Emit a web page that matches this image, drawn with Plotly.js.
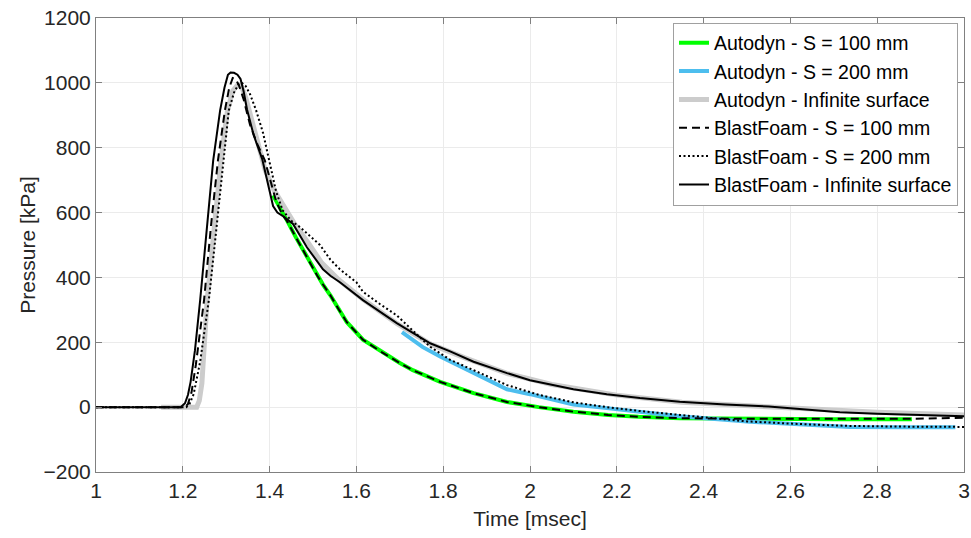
<!DOCTYPE html>
<html>
<head>
<meta charset="utf-8">
<script src="https://cdn.plot.ly/plotly-3.0.1.min.js"></script>
<style>
html,body{margin:0;padding:0;background:#fff;}
#chart{width:971px;height:538px;}
</style>
</head>
<body>
<div id="chart"></div>
<script>
// Autodyn - S = 100 mm
var autoS100_t = [1.408,1.425,1.44,1.46,1.486,1.51,1.523,1.54,1.56,1.578,1.615,1.66,1.70,1.73,1.793,1.87,1.947,2.02,2.1,2.18,2.25,2.345,2.5,2.7,2.88];
var autoS100_p = [653,615,576,525,462,405,378,345,300,262,208,168,136,114,78,43,16,0,-14,-24,-30,-34,-36,-37,-37];

// Autodyn - S = 200 mm
var autoS200_t = [1.705,1.753,1.793,1.81,1.87,1.947,2.0,2.023,2.1,2.177,2.253,2.345,2.507,2.62,2.737,2.86,2.98];
var autoS200_p = [231,185,156,145,105,55,40,33,8,-3,-15,-28,-45,-54,-61,-62,-62];

// Autodyn - Infinite surface
var autoInf_t = [1.15,1.232,1.238,1.244,1.256,1.272,1.288,1.303,1.315,1.327,1.335,1.345,1.36,1.375,1.39,1.41,1.424,1.44,1.46,1.49,1.52,1.56,1.615,1.693,1.77,1.85,1.95,2.05,2.2,2.35,2.5,2.65,2.8,3.0];
var autoInf_p = [0,0,20,74,330,560,761,915,975,995,990,955,880,800,730,670,640,600,560,505,445,392,333,258,195,152,103,70,37,15,4,-8,-16,-24];

// BlastFoam - S = 100 mm
var bfS100_t = [1.0,1.1,1.205,1.212,1.22,1.23,1.249,1.265,1.281,1.297,1.307,1.315,1.322,1.33,1.34,1.355,1.372,1.389,1.40,1.415,1.43,1.44,1.46,1.486,1.51,1.523,1.54,1.56,1.578,1.615,1.66,1.70,1.73,1.793,1.87,1.947,2.02,2.1,2.18,2.25,2.345,2.5,2.7,2.88,3.0];
var bfS100_p = [0,0,0,10,45,130,330,560,761,915,985,1015,1012,990,950,870,810,761,705,635,592,574,525,462,405,378,345,300,262,208,168,136,114,78,43,16,0,-14,-24,-30,-34,-36,-37,-36,-33];

// BlastFoam - S = 200 mm
var bfS200_t = [1.0,1.1,1.208,1.215,1.225,1.24,1.26,1.277,1.293,1.306,1.318,1.328,1.336,1.345,1.355,1.369,1.385,1.40,1.415,1.43,1.45,1.47,1.49,1.516,1.54,1.562,1.60,1.615,1.654,1.693,1.73,1.77,1.793,1.816,1.87,1.947,2.023,2.1,2.177,2.253,2.345,2.5,2.62,2.737,2.86,3.0];
var bfS200_p = [0,0,0,8,40,140,330,545,761,915,970,995,1000,990,965,915,845,755,665,607,575,555,530,500,455,425,385,356,318,283,236,186,166,146,114,68,37,15,0,-12,-24,-44,-52,-58,-60,-61];

// BlastFoam - Infinite surface
var bfInf_t = [1.0,1.1,1.195,1.205,1.212,1.218,1.228,1.24,1.255,1.27,1.286,1.296,1.304,1.31,1.318,1.326,1.333,1.34,1.348,1.363,1.383,1.398,1.408,1.418,1.43,1.454,1.486,1.523,1.54,1.562,1.615,1.693,1.77,1.816,1.87,1.947,2.0,2.1,2.177,2.253,2.345,2.45,2.55,2.65,2.714,2.8,2.9,3.0];
var bfInf_p = [0,0,0,12,38,78,175,330,545,760,915,985,1025,1032,1031,1025,1012,975,918,840,765,680,620,600,590,565,493,425,405,385,330,259,197,172,140,105,83,55,40,28,17,8,2,-9,-16,-20,-25,-28];

var names = ['Autodyn - S = 100 mm','Autodyn - S = 200 mm','Autodyn - Infinite surface',
             'BlastFoam - S = 100 mm','BlastFoam - S = 200 mm','BlastFoam - Infinite surface'];

var xTicks = [1,1.2,1.4,1.6,1.8,2,2.2,2.4,2.6,2.8,3];
var xTickText = ['1','1.2','1.4','1.6','1.8','2','2.2','2.4','2.6','2.8','3'];
var yTicks = [-200,0,200,400,600,800,1000,1200];

var traces = [
  {x: autoS100_t, y: autoS100_p, name: names[0], mode:'lines', line:{color:'#00ff00', width:4}},
  {x: autoS200_t, y: autoS200_p, name: names[1], mode:'lines', line:{color:'#4dbeee', width:4}},
  {x: autoInf_t, y: autoInf_p, name: names[2], mode:'lines', line:{color:'#cccccc', width:5}},
  {x: bfS100_t, y: bfS100_p, name: names[3], mode:'lines', line:{color:'#000000', width:2, dash:'8px,5px'}},
  {x: bfS200_t, y: bfS200_p, name: names[4], mode:'lines', line:{color:'#000000', width:2, dash:'2px,2.5px'}},
  {x: bfInf_t, y: bfInf_p, name: names[5], mode:'lines', line:{color:'#000000', width:2}}
];

var fontFam = '"Liberation Sans", Arial, sans-serif';

var layout = {
  width: 971, height: 538,
  margin: {l:96, r:7, t:18, b:66},
  paper_bgcolor:'#ffffff', plot_bgcolor:'#ffffff',
  font: {family: fontFam, size: 22, color:'#262626'},
  showlegend: true,
  legend: {
    x: 0.9931, y: 0.99, xanchor:'right', yanchor:'top',
    bgcolor:'#ffffff', bordercolor:'#a0a0a0', borderwidth:1,
    font:{family: fontFam, size:19.5, color:'#000000'},
    itemwidth: 30, tracegroupgap: 0
  },
  xaxis: {
    range:[1,3], tickvals: xTicks, ticktext: xTickText,
    showgrid:true, gridcolor:'#ebebeb', gridwidth:1,
    zeroline:false, showline:true, linecolor:'#808080', linewidth:1, mirror:'allticks',
    ticks:'inside', ticklen:6, tickcolor:'#808080',
    tickfont:{family: fontFam, size:21, color:'#262626'},
    title:{text:'Time [msec]', font:{family: fontFam, size:21, color:'#262626'}, standoff:10}
  },
  yaxis: {
    range:[-200,1200], tickvals: yTicks,
    showgrid:true, gridcolor:'#ebebeb', gridwidth:1,
    zeroline:false, showline:true, linecolor:'#808080', linewidth:1, mirror:'allticks',
    ticks:'inside', ticklen:6, tickcolor:'#808080',
    tickfont:{family: fontFam, size:21, color:'#262626'},
    title:{text:'Pressure [kPa]', font:{family: fontFam, size:21, color:'#262626'}, standoff:2}
  }
};

Plotly.newPlot('chart', traces, layout, {displayModeBar:false, staticPlot:true});
</script>
</body>
</html>
